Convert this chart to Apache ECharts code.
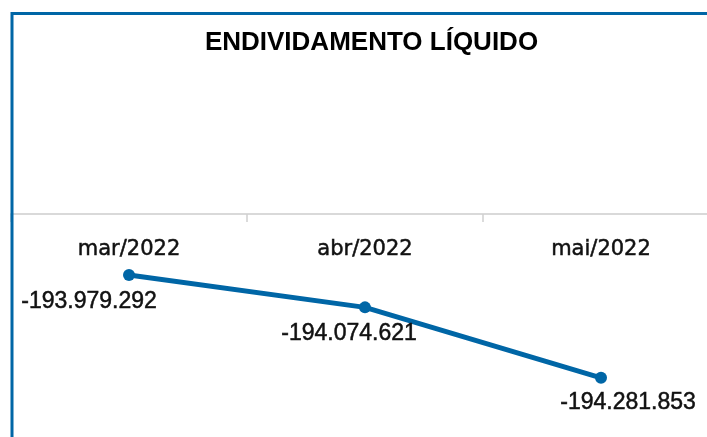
<!DOCTYPE html>
<html>
<head>
<meta charset="utf-8">
<script src="https://cdn.jsdelivr.net/npm/echarts@6/dist/echarts.min.js"></script>
<style>html,body{margin:0;padding:0;background:#fff}#c{width:707px;height:437px}</style>
</head>
<body>
<div id="c"></div>
<script>
const titleText = 'ENDIVIDAMENTO LÍQUIDO';
const categories = ['mar/2022', 'abr/2022', 'mai/2022'];
const values = [-193979292, -194074621, -194281853];
const labelOffsets = [[-40, 27], [-16, 26], [27, 25]];

function fmt(v) {
  const s = Math.abs(Math.round(v)).toString().replace(/\B(?=(\d{3})+(?!\d))/g, '.');
  return (v < 0 ? '-' : '') + s;
}

const chart = echarts.init(document.getElementById('c'));
chart.setOption({
  animation: false,
  backgroundColor: '#fff',
  title: {
    text: titleText,
    left: 366.5,
    textAlign: 'center',
    top: 25,
    textStyle: { fontFamily: 'Liberation Sans', fontWeight: 'bold', fontSize: 26, color: '#000' }
  },
  graphic: [{
    type: 'rect',
    shape: { x: 12, y: 13.5, width: 900, height: 600 },
    style: { fill: 'none', stroke: '#0066a6', lineWidth: 3 },
    z: 100
  }],
  grid: { left: 11, width: 708, top: 214, bottom: 19, outerBoundsMode: 'none', containLabel: false },
  xAxis: {
    type: 'category',
    data: categories,
    position: 'top',
    axisLine: { lineStyle: { color: '#d9d9d9', width: 2 } },
    axisTick: { show: true, inside: true, length: 8, lineStyle: { color: '#d0d0d0', width: 1.5 } },
    axisLabel: { inside: true, margin: 25, fontFamily: 'DejaVu Sans', fontSize: 21, color: '#111',
      textBorderColor: '#111', textBorderWidth: 0.5 },
    splitLine: { show: false }
  },
  yAxis: {
    type: 'value',
    min: -194400000,
    max: -193800000,
    show: false,
    splitLine: { show: false }
  },
  series: [{
    type: 'line',
    data: values.map((v, i) => ({
      value: v,
      label: { offset: labelOffsets[i] }
    })),
    symbol: 'circle',
    symbolSize: 12,
    lineStyle: { color: '#0066a6', width: 5 },
    itemStyle: { color: '#0066a6' },
    label: {
      show: true,
      position: 'inside',
      formatter: p => fmt(p.value),
      fontFamily: 'Liberation Sans',
      fontSize: 23,
      color: '#111',
      textBorderColor: '#111',
      textBorderWidth: 0.5
    }
  }]
});
</script>
</body>
</html>
